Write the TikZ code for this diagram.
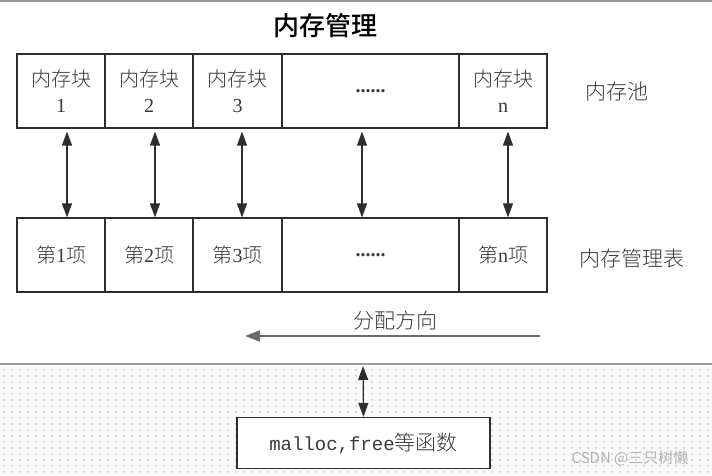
\documentclass[tikz,border=0pt]{standalone}
\usepackage{fontspec}
\setmainfont{Liberation Serif}
\newfontfamily\cjk{Noto Sans CJK SC Light}
\newfontfamily\cjkb{Noto Sans CJK SC Medium}
\newfontfamily\cjksans{Noto Sans CJK SC}
\newfontfamily\monof{Liberation Mono}
\usetikzlibrary{arrows.meta}
\definecolor{ink}{HTML}{2E2E2E}
\definecolor{txt}{HTML}{3A3A3A}
\definecolor{dotc}{HTML}{B8B8B8}
\definecolor{sep}{HTML}{9A9A9A}
\tikzset{
  cell/.style={draw=ink, line width=1.2pt, minimum height=74pt, inner sep=0pt, text=txt, font=\fontsize{20}{26}\selectfont\cjk, align=center},
  lbl/.style={text=txt, font=\fontsize{21}{24}\selectfont\cjk, inner sep=0pt},
  dbl/.style={ink, line width=1.2pt, {Triangle[length=14pt,width=10pt]}-{Triangle[length=14pt,width=10pt]}},
  dirarrow/.style={sep!70!black, line width=1.6pt, -{Triangle[length=15pt,width=11pt]}}
}
\newcommand{\dotsx}{{\rmfamily\bfseries\fontsize{20}{24}\selectfont ......}}
\begin{document}
\begin{tikzpicture}[x=1pt,y=-1pt]
\useasboundingbox (0,0) rectangle (712,476);
\fill[white] (0,0) rectangle (712,476);
\fill[white!96!gray] (0,364) rectangle (712,476);
\foreach \yy in {370,376,...,476} {
  \foreach \xx in {4,12,...,712} {
    \fill[dotc] (\xx,\yy) circle (0.9pt);
  }
}
\draw[sep, line width=1.5pt] (0,1) -- (712,1);
\draw[sep, line width=2pt] (0,364) -- (712,364);
% title
\node[text=black, font=\fontsize{26}{28}\selectfont\cjkb] (title) at (325,26) {内存管理};
% top row
\node[cell, minimum width=88pt] (a1) at (61,91) {内存块\\{\rmfamily 1}};
\node[cell, minimum width=88pt] (a2) at (149,91) {内存块\\{\rmfamily 2}};
\node[cell, minimum width=89pt] (a3) at (237.5,91) {内存块\\{\rmfamily 3}};
\node[cell, minimum width=177pt] (a4) at (370.5,91) {\dotsx};
\node[cell, minimum width=88pt] (a5) at (503,91) {内存块\\{\rmfamily n}};
\node[lbl] (pool) at (617,92) {内存池};
% bottom row
\node[cell, minimum width=88pt] (b1) at (61,255) {第{\rmfamily 1}项};
\node[cell, minimum width=88pt] (b2) at (149,255) {第{\rmfamily 2}项};
\node[cell, minimum width=89pt] (b3) at (237.5,255) {第{\rmfamily 3}项};
\node[cell, minimum width=177pt] (b4) at (370.5,255) {\dotsx};
\node[cell, minimum width=88pt] (b5) at (503,255) {第{\rmfamily n}项};
\node[lbl] (table) at (632,259) {内存管理表};
% vertical double arrows
\draw[dbl] ([xshift=6pt,yshift=-3pt]a1.south) -- ([xshift=6pt]b1.north);
\draw[dbl] ([xshift=6pt,yshift=-3pt]a2.south) -- ([xshift=6pt]b2.north);
\draw[dbl] ([xshift=4.5pt,yshift=-3pt]a3.south) -- ([xshift=4.5pt]b3.north);
\draw[dbl] ([xshift=-8.5pt,yshift=-3pt]a4.south) -- ([xshift=-8.5pt]b4.north);
\draw[dbl] ([xshift=5pt,yshift=-3pt]a5.south) -- ([xshift=5pt]b5.north);
% direction
\node[lbl] (dir) at (395,321) {分配方向};
\coordinate (dS) at (540,336);
\coordinate (dE) at (245,336);
\draw[dirarrow] (dS) -- (dE);
% bottom box
\node[draw=ink, line width=1.3pt, fill=white, minimum width=253pt, minimum height=51pt, inner sep=0pt, text=txt] (lib) at (363.5,443) {{\monof\fontsize{19}{22}\selectfont malloc,free}{\cjk\fontsize{21}{24}\selectfont 等函数}};
\coordinate (sepP) at (363,366);
\draw[dbl] (sepP) -- (lib.north);
% watermark
\node[text=black!30, font=\fontsize{15}{16}\selectfont\cjksans, inner sep=0pt] (wm) at (630,458) {CSDN @三只树懒};
\end{tikzpicture}
\end{document}
